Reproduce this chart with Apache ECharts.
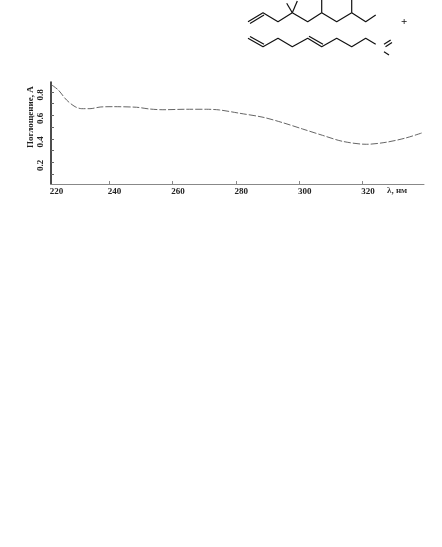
<!DOCTYPE html>
<html>
<head>
<meta charset="utf-8">
<style>
html, body { margin: 0; padding: 0; background: #fff; }
#chart { width: 442px; height: 547px; }
</style>
<script src="https://cdn.jsdelivr.net/npm/echarts@6/dist/echarts.min.js"></script>
</head>
<body>
<div id="chart"></div>
<script>
// spectrum: wavelength, absorbance
var wavelengths = [221.9, 224.0, 226.6, 229.3, 231.4, 234.0, 237.2, 241.3, 248.7, 252.9, 257.0, 264.4,
	270.7, 274.9, 281.2, 288.6, 294.8, 301.1, 307.4, 313.7, 321.2, 327.4, 333.7, 339.0];
var absorbance = [0.86, 0.817, 0.732, 0.675, 0.658, 0.658, 0.672, 0.675, 0.670, 0.655, 0.649, 0.653,
	0.653, 0.647, 0.619, 0.585, 0.539, 0.485, 0.431, 0.380, 0.355, 0.372, 0.409, 0.454];

var xTicks = [220, 240, 260, 280, 300, 320];
var yTicks = [0.1, 0.2, 0.3, 0.4, 0.5, 0.6, 0.7, 0.8];
var yLabels = [0.2, 0.4, 0.6, 0.8];
var xMin = 221.7, xMax = 339.4;
var yMin = 0.017, yMax = 0.885;

// formula sketched above the plot, one list per stroke
var topChain = [[248, 21.7], [263, 12.7], [278, 21.7], [292.3, 12.7], [307.7, 21.7], [321.7, 12.7], [336.7, 21.7], [351.7, 12.7], [365.7, 21.7], [375.7, 15]];
var topDouble = [[250, 23.5], [264, 15]];
var topMeA = [[292.3, 12.7], [286.7, 3.3]];
var topMeB = [[292.3, 12.7], [297.3, 1]];
var topMeC = [[321.7, 12.7], [321.7, 0]];
var topMeD = [[351.7, 12.7], [351.7, 0]];
var lowChain = [[248, 38.3], [263, 46.7], [278, 38.3], [292.3, 46.7], [307.7, 38.3], [321.7, 46.7], [336.7, 38.3], [351.7, 46.7], [365.7, 38.3], [375.7, 44.3]];
var lowDoubleA = [[250, 36.5], [264, 44.3]];
var lowDoubleB = [[309, 36.3], [323, 44.3]];
var tailA = [[384, 44.3], [390.7, 40]];
var tailB = [[385.5, 46.8], [392, 42.6]];
var tailC = [[384, 51.7], [389, 55]];
var strokes = [topChain, topDouble, topMeA, topMeB, topMeC, topMeD, lowChain, lowDoubleA, lowDoubleB, tailA, tailB, tailC];

var spectrum = [];
for(var i = 0; i < wavelengths.length; i++) {
	spectrum.push([wavelengths[i], absorbance[i]]);
}

var serif = '"Liberation Serif", serif';
var series = [{
	type: 'line',
	data: spectrum,
	symbol: 'none',
	smooth: 0.3,
	silent: true,
	lineStyle: { color: '#666', width: 1, type: [7, 2] }
}];
strokes.forEach(function(s) {
	series.push({
		type: 'line',
		xAxisIndex: 1,
		yAxisIndex: 1,
		data: s,
		symbol: 'none',
		silent: true,
		lineStyle: { color: '#111', width: 1.2 }
	});
});

var Chart = echarts.init(document.getElementById('chart'));
var option = {
	animation: false,
	backgroundColor: '#fff',
	grid: [
		{ left: 51, right: 18, top: 82, bottom: 363 },
		{ left: 0, right: 0, top: 0, bottom: 0 }
	],
	xAxis: [{
		type: 'value',
		min: xMin,
		max: xMax,
		splitLine: { show: false },
		axisLine: { lineStyle: { color: '#888', width: 1 } },
		axisTick: {
			inside: true,
			length: 3,
			lineStyle: { color: '#888' },
			customValues: xTicks.slice(1)
		},
		axisLabel: {
			// the first label belongs to the axis origin, printed 220
			customValues: xTicks.map(function(v) { return Math.max(v, xMin); }),
			formatter: function(v) { return String(Math.round(v / 20) * 20); },
			showMinLabel: true,
			color: '#222',
			fontFamily: serif,
			fontWeight: 'bold',
			fontSize: 9,
			margin: 3,
			padding: [0, 0, 0, 11],
			hideOverlap: false
		}
	}, {
		gridIndex: 1,
		type: 'value',
		min: 0,
		max: 442,
		show: false
	}],
	yAxis: [{
		type: 'value',
		min: yMin,
		max: yMax,
		splitLine: { show: false },
		axisLine: { lineStyle: { color: '#111', width: 1.5 } },
		axisTick: {
			inside: true,
			length: 3,
			lineStyle: { color: '#666' },
			customValues: yTicks
		},
		axisLabel: {
			customValues: yLabels,
			formatter: function(v) { return v.toFixed(1); },
			rotate: 90,
			color: '#222',
			fontFamily: serif,
			fontWeight: 'bold',
			fontSize: 9,
			margin: 6,
			padding: [4, 6, 0, 0]
		}
	}, {
		gridIndex: 1,
		type: 'value',
		min: 0,
		max: 547,
		inverse: true,
		show: false
	}],
	graphic: [{
		type: 'text',
		left: 387,
		top: 186,
		style: { text: 'λ, нм', fill: '#333', font: 'bold 9px ' + serif }
	}, {
		type: 'text',
		x: 26,
		y: 148,
		rotation: Math.PI / 2,
		style: { text: 'Поглощение, А', fill: '#222', font: 'bold 9px ' + serif }
	}, {
		type: 'text',
		left: 401,
		top: 17,
		style: { text: '+', fill: '#111', font: 'bold 11px ' + serif }
	}],
	series: series
};
Chart.setOption(option);
</script>
</body>
</html>
